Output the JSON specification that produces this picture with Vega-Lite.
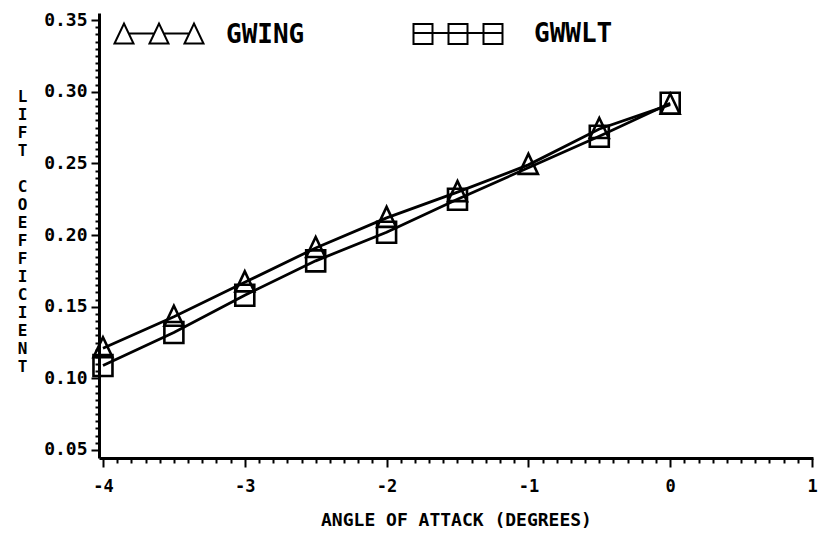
{
  "$schema": "https://vega.github.io/schema/vega-lite/v6.json",
  "autosize": {"type": "none"},
  "padding": {"left": 99, "top": 13, "right": 7, "bottom": 75},
  "width": 714,
  "height": 445,
  "background": "white",
  "config": {
    "view": {"stroke": null},
    "font": "DejaVu Sans Mono",
    "axis": {"labelFont": "DejaVu Sans Mono", "titleFont": "DejaVu Sans Mono", "labelColor": "black", "titleColor": "black", "domainColor": "black", "tickColor": "black", "grid": false}
  },
  "data": {
    "values": [
      {"series": "GWING", "angle": -4, "cl": 0.121},
      {"series": "GWING", "angle": -3.5, "cl": 0.143},
      {"series": "GWING", "angle": -3, "cl": 0.167},
      {"series": "GWING", "angle": -2.5, "cl": 0.191},
      {"series": "GWING", "angle": -2, "cl": 0.212},
      {"series": "GWING", "angle": -1.5, "cl": 0.230},
      {"series": "GWING", "angle": -1, "cl": 0.249},
      {"series": "GWING", "angle": -0.5, "cl": 0.274},
      {"series": "GWING", "angle": 0, "cl": 0.291},
      {"series": "GWWLT", "angle": -4, "cl": 0.109},
      {"series": "GWWLT", "angle": -3.5, "cl": 0.132},
      {"series": "GWWLT", "angle": -3, "cl": 0.158},
      {"series": "GWWLT", "angle": -2.5, "cl": 0.182},
      {"series": "GWWLT", "angle": -2, "cl": 0.202},
      {"series": "GWWLT", "angle": -1.5, "cl": 0.225},
      {"series": "GWWLT", "angle": -0.5, "cl": 0.269},
      {"series": "GWWLT", "angle": 0, "cl": 0.292}
    ]
  },
  "encoding": {
    "x": {
      "field": "angle", "type": "quantitative",
      "scale": {"domain": [-4.028, 1.007], "nice": false, "zero": false},
      "axis": {
        "title": "ANGLE OF ATTACK (DEGREES)",
        "values": [-4,-3.9,-3.8,-3.7,-3.6,-3.5,-3.4,-3.3,-3.2,-3.1,-3,-2.9,-2.8,-2.7,-2.6,-2.5,-2.4,-2.3,-2.2,-2.1,-2,-1.9,-1.8,-1.7,-1.6,-1.5,-1.4,-1.3,-1.2,-1.1,-1,-0.9,-0.8,-0.7,-0.6,-0.5,-0.4,-0.3,-0.2,-0.1,0,0.1,0.2,0.3,0.4,0.5,0.6,0.7,0.8,0.9,1],
        "labelExpr": "abs(datum.value - round(datum.value)) < 0.001 ? '' + round(datum.value) : ''",
        "labelOverlap": false,
        "labelFlush": false,
        "labelFontSize": 17,
        "labelFontWeight": "bold",
        "labelPadding": 11,
        "tickSize": {"condition": {"test": "abs(datum.value - round(datum.value)) < 0.001", "value": 9}, "value": 5},
        "tickWidth": 2,
        "domainWidth": 3,
        "titleFontSize": 18,
        "titleFontWeight": "bold",
        "titleBaseline": "middle",
        "titleY": 62
      }
    },
    "y": {
      "field": "cl", "type": "quantitative",
      "scale": {"domain": [0.0444, 0.355], "nice": false, "zero": false},
      "axis": {
        "title": ["L","I","F","T","\u200b","C","O","E","F","F","I","C","I","E","N","T"],
        "values": [0.05,0.055,0.06,0.065,0.07,0.075,0.08,0.085,0.09,0.095,0.1,0.105,0.11,0.115,0.12,0.125,0.13,0.135,0.14,0.145,0.15,0.155,0.16,0.165,0.17,0.175,0.18,0.185,0.19,0.195,0.2,0.205,0.21,0.215,0.22,0.225,0.23,0.235,0.24,0.245,0.25,0.255,0.26,0.265,0.27,0.275,0.28,0.285,0.29,0.295,0.3,0.305,0.31,0.315,0.32,0.325,0.33,0.335,0.34,0.345,0.35],
        "labelExpr": "abs(datum.value*20 - round(datum.value*20)) < 0.001 ? format(datum.value, '.2f') : ''",
        "labelOverlap": false,
        "labelFlush": false,
        "labelFontSize": 18,
        "labelFontWeight": "bold",
        "labelPadding": 4,
        "tickSize": {"condition": {"test": "abs(datum.value*20 - round(datum.value*20)) < 0.001", "value": 8}, "value": 4},
        "tickWidth": 2,
        "domainWidth": 3,
        "titleFontSize": 16,
        "titleFontWeight": "bold",
        "titleAngle": 0,
        "titleAlign": "center",
        "titleBaseline": "top",
        "titleLineHeight": 18,
        "titleX": -77,
        "titleY": 75
      }
    }
  },
  "layer": [
    {
      "mark": {"type": "line", "color": "black", "strokeWidth": 2.8},
      "encoding": {"detail": {"field": "series", "type": "nominal"}}
    },
    {
      "transform": [{"filter": "datum.series === 'GWING'"}],
      "mark": {"type": "point", "filled": false, "strokeWidth": 2.6, "size": 400, "opacity": 1, "shape": "M0,-1.1L0.95,0.9L-0.95,0.9Z"},
      "encoding": {
        "color": {
          "field": "series", "type": "nominal",
          "scale": {"domain": ["GWING", "GWWLT"], "range": ["black", "black"]},
          "legend": {
            "title": null,
            "orient": "none",
            "direction": "horizontal",
            "legendX": 47,
            "legendY": 8,
            "padding": 0,
            "symbolSize": 400,
            "symbolStrokeWidth": 2,
            "symbolFillColor": "transparent",
            "symbolOpacity": 1,
            "symbolType": {"expr": "datum.value === 'GWING' ? 'M-4.45,0.9L-3.5,-1.1L-2.55,0.9Z M-0.95,0.9L0,-1.1L0.95,0.9Z M2.55,0.9L3.5,-1.1L4.45,0.9Z M-3.05,-0.1L-0.45,-0.1 M0.45,-0.1L3.05,-0.1' : 'M-5.35,-1H-3.45V1H-5.35Z M-1.85,-1H0.05V1H-1.85Z M1.65,-1H3.55V1H1.65Z M-5.35,-0.1H3.55'"},
            "labelFont": "DejaVu Sans Mono",
            "labelFontSize": 26,
            "labelFontWeight": "bold",
            "labelColor": "black",
            "labelOffset": 54,
            "columnPadding": 104
          }
        }
      }
    },
    {
      "transform": [{"filter": "datum.series === 'GWWLT'"}],
      "mark": {"type": "point", "filled": false, "color": "black", "strokeWidth": 2.6, "size": 400, "opacity": 1, "shape": "M-0.95,-1.05H0.95V1.05H-0.95Z"}
    }
  ]
}
